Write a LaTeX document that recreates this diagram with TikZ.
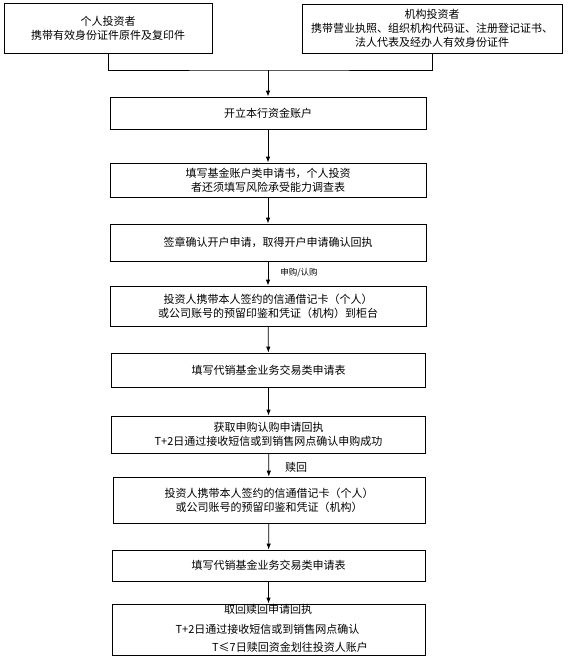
\documentclass[tikz,border=0pt]{standalone}
\usepackage{fontspec}
\newfontfamily\cjk{Noto Sans CJK SC}
\usetikzlibrary{arrows.meta}
\tikzset{
  box/.style={draw, line width=0.8pt, align=center, inner sep=0pt,
    font=\cjk\fontsize{11}{14}\selectfont},
  arr/.style={-{Latex[length=6pt,width=4.5pt]}, line width=0.8pt},
  conn/.style={line width=0.8pt},
  lbl/.style={font=\cjk\fontsize{11}{14}\selectfont, inner sep=0pt},
  slbl/.style={font=\cjk\fontsize{8.5}{10}\selectfont, inner sep=0pt}
}
\begin{document}
\begin{tikzpicture}[x=1pt,y=-1pt]
\useasboundingbox (0,0) rectangle (569,659);
\node[box, minimum width=208pt, minimum height=50pt] (pl) at (108,28) {个人投资者\\携带有效身份证件原件及复印件};
\node[box, minimum width=260pt, minimum height=49pt] (org) at (432,28.5) {机构投资者\\携带营业执照、组织机构代码证、注册登记证书、\\法人代表及经办人有效身份证件};
\node[box, minimum width=316pt, minimum height=32pt] (b1) at (268,113) {开立本行资金账户};
\node[box, minimum width=316pt, minimum height=34pt] (b2) at (268,180) {填写基金账户类申请书，个人投资\\者还须填写风险承受能力调查表};
\node[box, minimum width=316pt, minimum height=37pt] (b3) at (268,242.5) {签章确认开户申请，取得开户申请确认回执};
\node[box, minimum width=316pt, minimum height=40pt] (b4) at (268,306) {投资人携带本人签约的信通借记卡（个人）\\或公司账号的预留印鉴和凭证（机构）到柜台};
\node[box, minimum width=314pt, minimum height=34pt] (b5) at (268.5,370) {填写代销基金业务交易类申请表};
\node[box, minimum width=314pt, minimum height=37pt] (b6) at (268.5,434.5) {获取申购认购申请回执\\T+2日通过接收短信或到销售网点确认申购成功};
\node[box, minimum width=312pt, minimum height=46pt] (b7) at (269,500) {投资人携带本人签约的信通借记卡（个人）\\或公司账号的预留印鉴和凭证（机构）};
\node[box, minimum width=313pt, minimum height=31pt] (b8) at (268.5,565.5) {填写代销基金业务交易类申请表};
\node[box, minimum width=313pt, minimum height=51pt] (b9) at (268.5,629.5) {};
\node[lbl] (t91) at (268,609) {取回赎回申请回执};
\node[lbl] (t92) at (267.5,629) {T+2日通过接收短信或到销售网点确认};
\node[lbl] (t93) at (290,647) {T≤7日赎回资金划往投资人账户};
\coordinate (j) at (268,70);
\draw[conn] (pl.south) |- (j) -| (org.south);
\draw[arr] (j) -- (b1.north);
\draw[arr] (b1) -- (b2);
\draw[arr] (b2) -- (b3);
\draw[arr] (b3) -- (b4) node[slbl, pos=0.45, right=12pt] {申购/认购};
\draw[arr] (b4) -- (b5);
\draw[arr] (b5) -- (b6);
\draw[arr] (b6) -- (b7) node[lbl, pos=0.6, right=16pt] {赎回};
\draw[arr] (b7) -- (b8);
\draw[arr] (b8) -- (b9);
\end{tikzpicture}
\end{document}
